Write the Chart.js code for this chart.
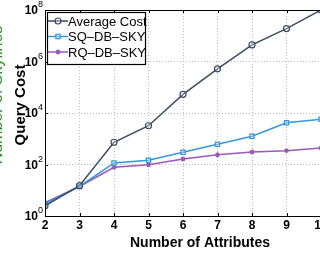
<!DOCTYPE html>
<html>
<head>
<meta charset="utf-8">
<script src="https://cdn.jsdelivr.net/npm/chart.js@4/dist/chart.umd.min.js"></script>
<style>
  html, body { margin: 0; padding: 0; background: #fff; overflow: hidden; }
  #wrap { width: 320px; height: 259px; overflow: hidden; position: relative; }
  #chart { position: absolute; left: 0; top: 0; }
</style>
</head>
<body>
<div id="wrap"><canvas id="chart" width="330" height="259"></canvas></div>
<script>
// values
const attributes = [2, 3, 4, 5, 6, 7, 8, 9, 10];
const avgCost = [2.5, 15, 730, 3200, 53000, 520000, 4400000, 19000000, 100000000];
const sqCost = [3, 14, 115, 145, 300, 610, 1250, 4200, 5700];
const rqCost = [3.3, 14, 78, 98, 163, 240, 307, 345, 435];
const yTicks = [0, 2, 4, 6, 8]; // exponents of 10

function points(vals) {
    let arr = [];
    for (let i = 0; i < vals.length; i++) {
        arr[i] = {x: attributes[i], y: vals[i]};
    }
    return arr;
}

function series(label, vals, color, style, radius) {
    return {
        label: label,
        data: points(vals),
        borderColor: color,
        backgroundColor: color,
        borderWidth: 1.5,
        pointStyle: style,
        pointRadius: radius,
        pointBorderWidth: 1.2,
        pointBackgroundColor: 'rgba(255,255,255,0.3)',
        pointBorderColor: color,
        tension: 0
    };
}

const labelsPlugin = {
    id: 'labels',
    afterDraw(chart) {
        const ctx = chart.ctx;
        const a = chart.chartArea;
        const xs = chart.scales.x, ys = chart.scales.y;
        ctx.save();
        // frame
        ctx.strokeStyle = '#000';
        ctx.lineWidth = 1;
        ctx.strokeRect(a.left + 0.5, a.top + 0.5, a.right - a.left, a.bottom - a.top);
        // inward ticks
        ctx.beginPath();
        attributes.forEach(v => {
            const px = Math.round(xs.getPixelForValue(v)) + 0.5;
            ctx.moveTo(px, a.bottom); ctx.lineTo(px, a.bottom - 3);
            ctx.moveTo(px, a.top); ctx.lineTo(px, a.top + 3);
        });
        yTicks.forEach(e => {
            const py = Math.round(ys.getPixelForValue(Math.pow(10, e))) + 0.5;
            ctx.moveTo(a.left, py); ctx.lineTo(a.left + 3, py);
        });
        ctx.stroke();
        // x tick labels
        ctx.fillStyle = '#000';
        ctx.font = 'bold 12px "Liberation Sans", Arial, sans-serif';
        ctx.textAlign = 'center';
        ctx.textBaseline = 'top';
        attributes.forEach(v => {
            ctx.fillText(String(v), xs.getPixelForValue(v), a.bottom + 4);
        });
        // y tick labels 10^n
        yTicks.forEach(e => {
            const py = ys.getPixelForValue(Math.pow(10, e));
            ctx.font = 'bold 12px "Liberation Sans", Arial, sans-serif';
            ctx.textAlign = 'right';
            ctx.textBaseline = 'middle';
            ctx.fillText('10', a.left - 7, py + 1);
            ctx.font = '9px "Liberation Sans", Arial, sans-serif';
            ctx.textAlign = 'left';
            ctx.fillText(String(e), a.left - 7, py - 5);
        });
        // axis titles
        ctx.font = 'bold 14px "Liberation Sans", Arial, sans-serif';
        ctx.textAlign = 'center';
        ctx.textBaseline = 'middle';
        ctx.fillText('Number of Attributes', 200, 243);
        ctx.save();
        ctx.font = 'bold 15px "Liberation Sans", Arial, sans-serif';
        ctx.translate(21, 105);
        ctx.rotate(-Math.PI / 2);
        ctx.fillText('Query Cost', 0, 0);
        ctx.restore();
        ctx.save();
        ctx.fillStyle = '#1f9a1f';
        ctx.font = '16px "Liberation Sans", Arial, sans-serif';
        ctx.translate(-2, 95);
        ctx.rotate(-Math.PI / 2);
        ctx.fillText('Number of Skylines', 0, 0);
        ctx.restore();
        // legend box
        const lx = 47, ly = 12, lw = 98, lh = 52;
        ctx.fillStyle = '#fff';
        ctx.fillRect(lx, ly, lw, lh);
        ctx.strokeStyle = '#000';
        ctx.lineWidth = 1.2;
        ctx.strokeRect(lx + 0.5, ly + 0.5, lw, lh);
        ctx.font = '13px "Liberation Sans", Arial, sans-serif';
        ctx.textAlign = 'left';
        chart.data.datasets.forEach((ds, i) => {
            const cy = ly + 9 + i * 15.5;
            ctx.strokeStyle = ds.borderColor;
            ctx.lineWidth = 1.5;
            ctx.beginPath();
            ctx.moveTo(lx + 1, cy); ctx.lineTo(lx + 21, cy);
            ctx.stroke();
            if (Chart.helpers && Chart.helpers.drawPoint) {
                ctx.fillStyle = 'rgba(255,255,255,0.3)';
                ctx.lineWidth = 1.2;
                Chart.helpers.drawPoint(ctx, {
                    pointStyle: ds.pointStyle, radius: ds.pointRadius, borderWidth: 1.2, rotation: 0
                }, lx + 11, cy);
            }
            ctx.fillStyle = '#000';
            ctx.fillText(ds.label, lx + 21, cy + 1);
        });
        ctx.restore();
    }
};

new Chart(document.getElementById('chart'), {
    type: 'line',
    data: {
        datasets: [
            series('Average Cost', avgCost, '#3a4b62', 'circle', 3),
            series('SQ\u2013DB\u2013SKY', sqCost, '#3498db', 'rect', 3),
            series('RQ\u2013DB\u2013SKY', rqCost, '#9b59b6', 'star', 2.5)
        ]
    },
    plugins: [labelsPlugin],
    options: {
        responsive: false,
        animation: false,
        devicePixelRatio: 1,
        layout: { padding: { left: 45, top: 10, right: 9, bottom: 43 } },
        plugins: { legend: { display: false }, tooltip: { enabled: false } },
        scales: {
            x: {
                type: 'linear', min: 2, max: 10,
                ticks: { display: false, stepSize: 1 },
                grid: { color: '#bbb', drawTicks: false },
                border: { display: false, dash: [1, 2] }
            },
            y: {
                type: 'logarithmic', min: 1, max: 1e8,
                afterBuildTicks: s => { s.ticks = yTicks.map(e => ({ value: Math.pow(10, e) })); },
                ticks: { display: false },
                grid: { color: '#bbb', drawTicks: false },
                border: { display: false, dash: [1, 2] }
            }
        }
    }
});
</script>
</body>
</html>
